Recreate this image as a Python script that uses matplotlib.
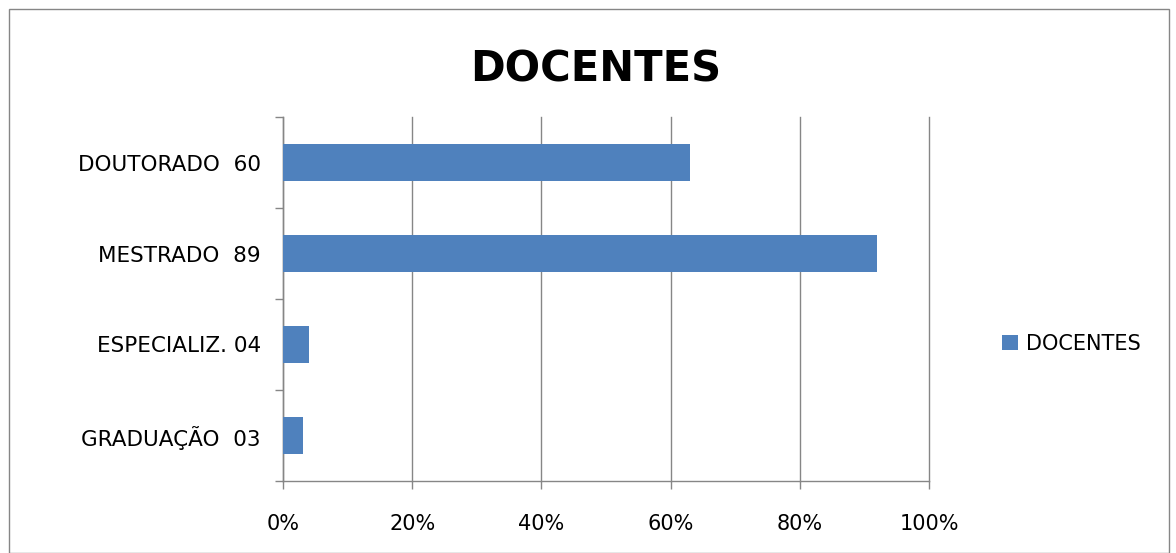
import matplotlib.pyplot as plt
from matplotlib.patches import Rectangle
from matplotlib.ticker import PercentFormatter, FixedLocator
import numpy as np

categorias = ['GRADUAÇÃO  03', 'ESPECIALIZ. 04', 'MESTRADO  89', 'DOUTORADO  60']
percentuais = [3.1, 4.0, 91.9, 63.0]
serie = 'DOCENTES'
cor = '#4F81BD'
cinza = '#868686'

plt.rcParams['font.family'] = ['DejaVu Sans']

fig = plt.figure(figsize=(11.76, 5.53), dpi=100)
ax = fig.add_axes([283 / 1176, 72 / 553, 646 / 1176, 364 / 553])

y = np.arange(len(categorias))
ax.barh(y, percentuais, height=0.4, color=cor, label=serie, zorder=3)

ax.set_xlim(0, 100)
ax.set_ylim(-0.5, len(categorias) - 0.5)
ax.xaxis.set_major_locator(FixedLocator([0, 20, 40, 60, 80, 100]))
ax.xaxis.set_major_formatter(PercentFormatter(decimals=0))
ax.set_yticks(y)
ax.set_yticklabels(categorias)
ax.yaxis.set_minor_locator(FixedLocator(np.arange(-0.5, len(categorias), 1)))

ax.grid(axis='x', color=cinza, linewidth=1, zorder=0)
for linha in ax.get_xgridlines():
    linha.set_clip_on(False)
for lado in ['top', 'right']:
    ax.spines[lado].set_visible(False)
for lado in ['left', 'bottom']:
    ax.spines[lado].set_color(cinza)
    ax.spines[lado].set_linewidth(1)

ax.tick_params(axis='y', which='major', length=0, pad=16, labelsize=15.5)
ax.tick_params(axis='y', which='minor', length=6, color=cinza, width=1)
ax.tick_params(axis='x', length=6, color=cinza, width=1, pad=18, labelsize=15)

fig.text(596 / 1176, 1 - 70 / 553, serie, ha='center', va='center',
         fontsize=30, fontweight='bold')

ax.legend(loc='center left', bbox_to_anchor=(992 / 1176, 1 - 344 / 553),
          bbox_transform=fig.transFigure, frameon=False, fontsize=15,
          handlelength=0.75, handleheight=0.75, handletextpad=0.4,
          borderpad=0)

# moldura externa do gráfico
fig.patches.append(Rectangle((9 / 1176, 0), 1160 / 1176, 1 - 9 / 553,
                             transform=fig.transFigure, fill=False,
                             edgecolor=cinza, linewidth=1))

fig.savefig('out.png', dpi=100)
